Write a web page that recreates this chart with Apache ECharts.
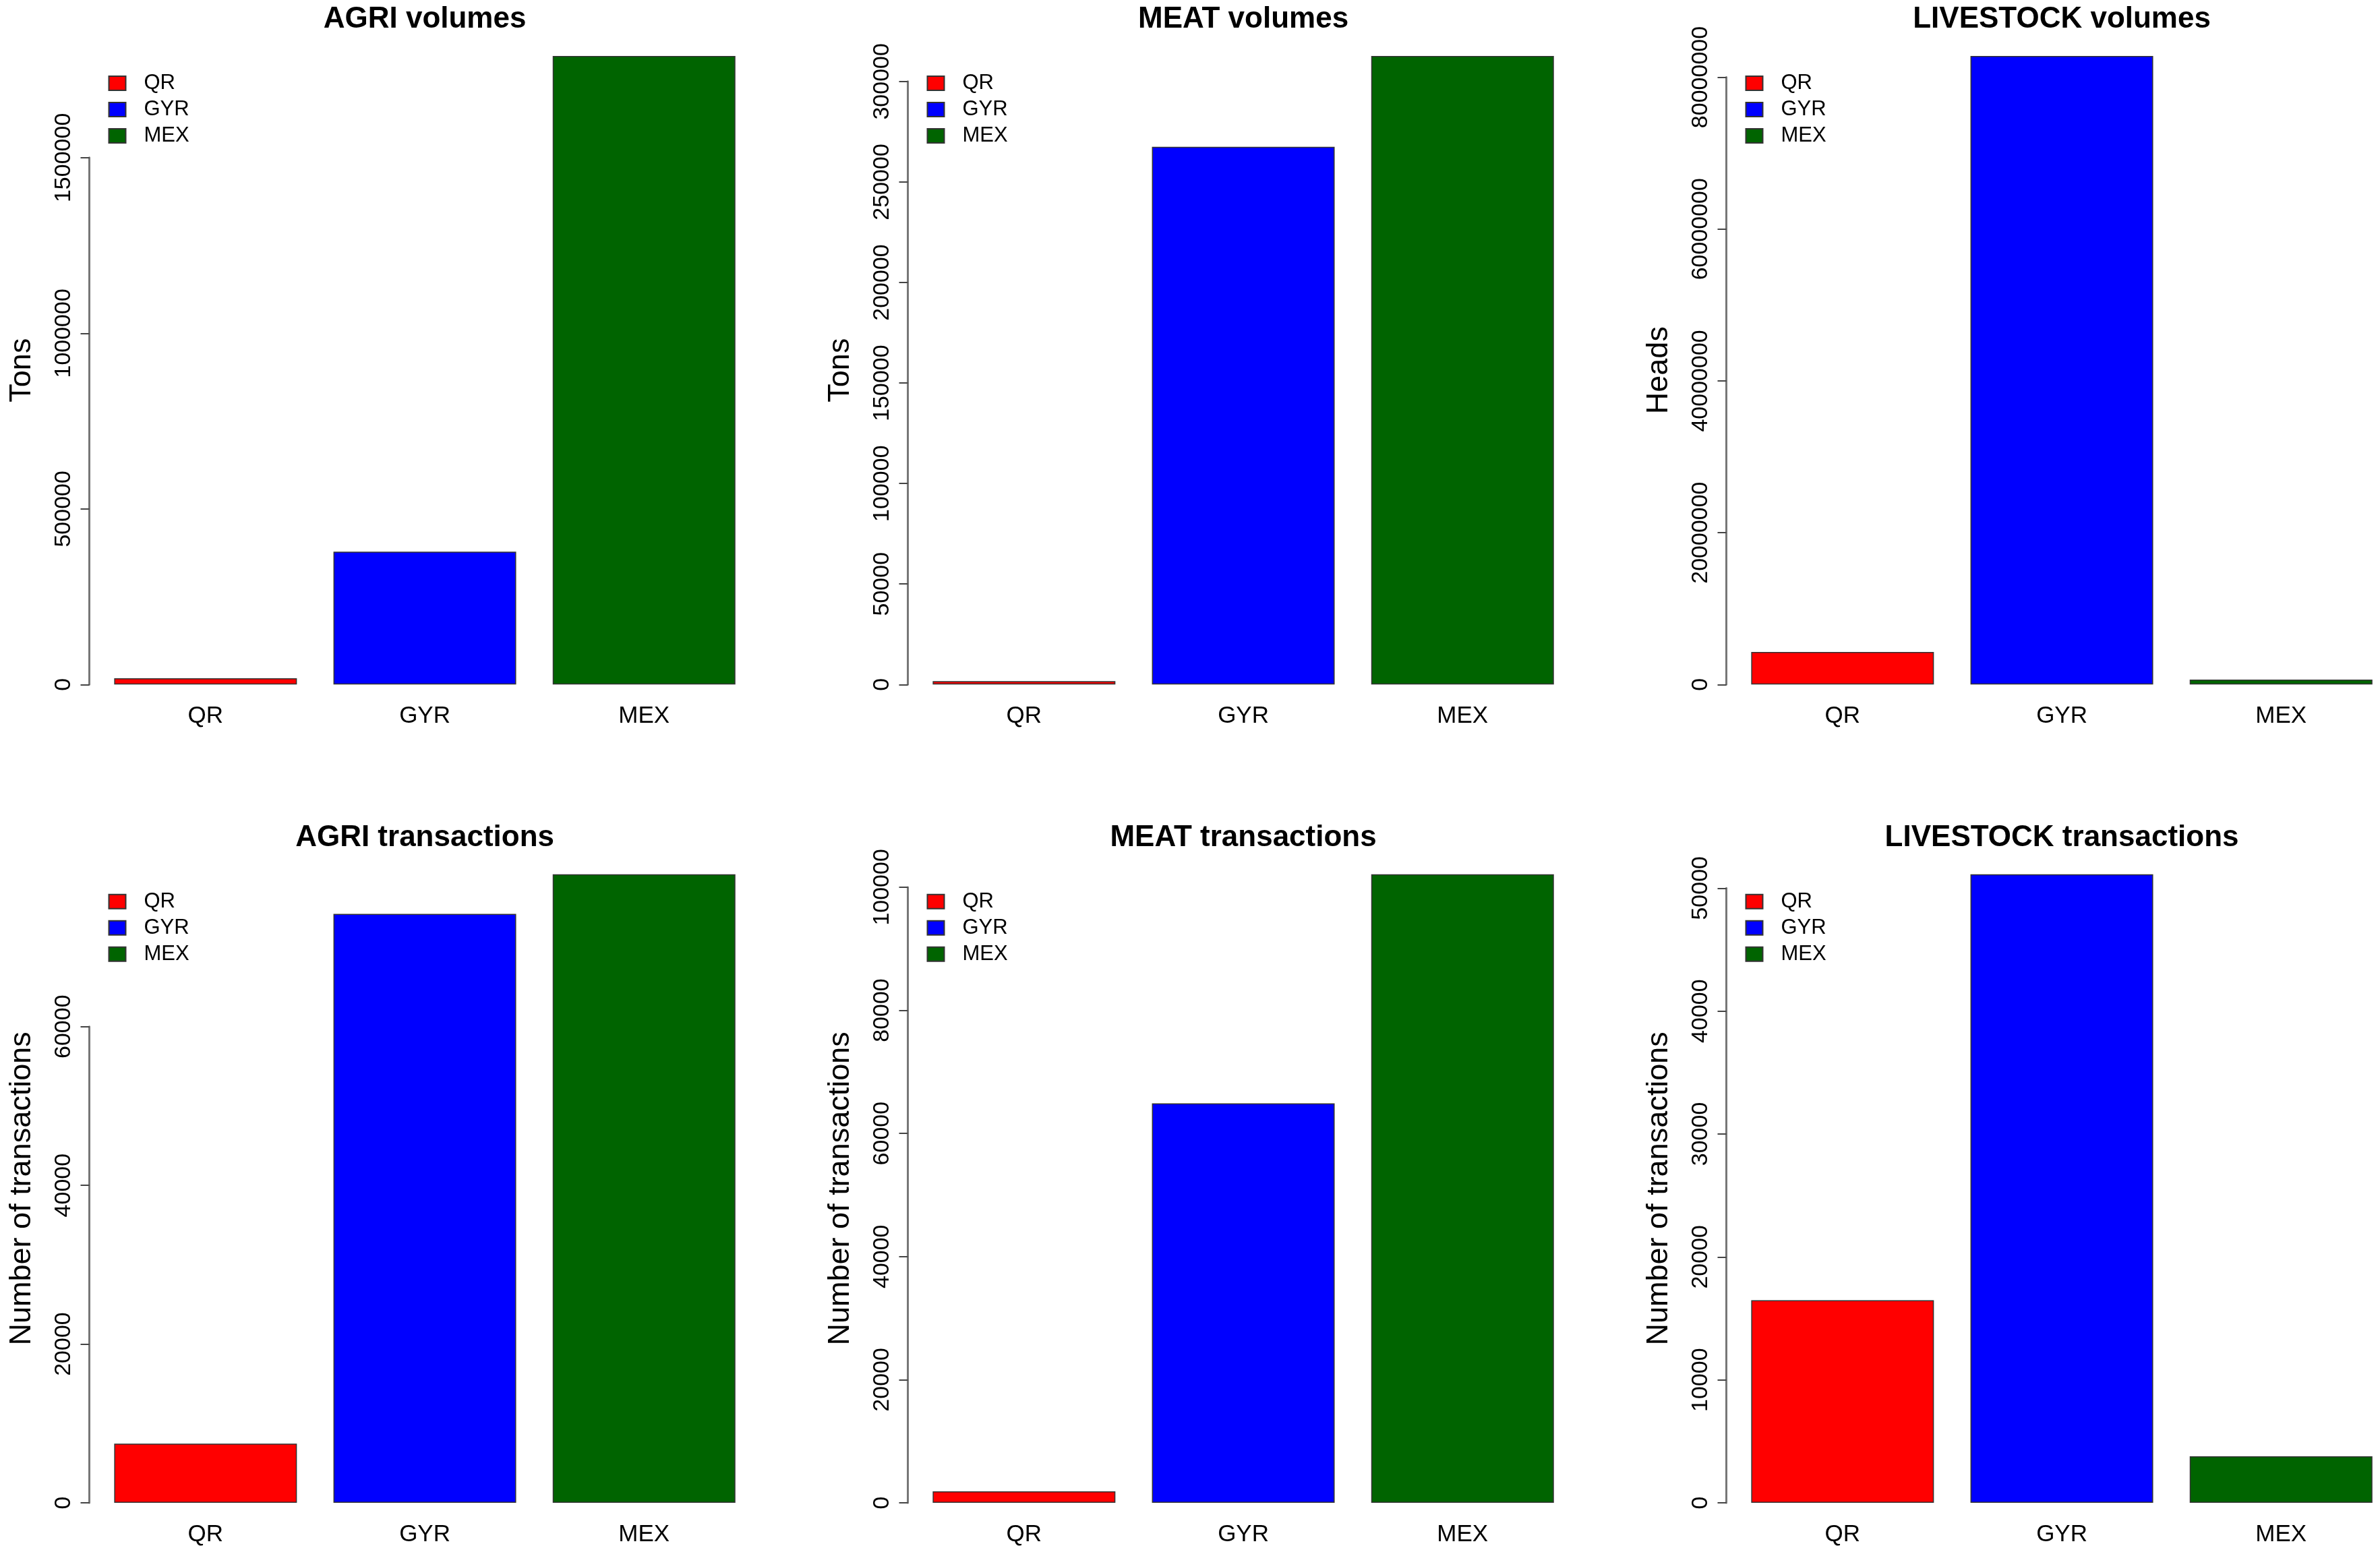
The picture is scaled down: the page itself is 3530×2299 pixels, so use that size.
<!DOCTYPE html>
<html>
<head>
<meta charset="utf-8">
<script src="https://cdn.jsdelivr.net/npm/echarts@6/dist/echarts.min.js"></script>
<style>
html,body{margin:0;padding:0;background:#fff;overflow:hidden;width:3530px;height:2299px;}
#chart{width:3640px;height:2299px;}
</style>
</head>
<body>
<div id="chart"></div>
<script>
// ---- data ----
const categories = ['QR', 'GYR', 'MEX'];
const seriesColors = ['#FF0000', '#0000FF', '#006400'];

const panelTitles = ['AGRI volumes', 'MEAT volumes', 'LIVESTOCK volumes',
                     'AGRI transactions', 'MEAT transactions', 'LIVESTOCK transactions'];
const yAxisTitles = ['Tons', 'Tons', 'Heads',
                     'Number of transactions', 'Number of transactions', 'Number of transactions'];

const agriVolumes = [18000, 378400, 1789600];
const meatVolumes = [1700, 267500, 312700];
const livestockVolumes = [4300000, 82800000, 650000];
const agriTransactions = [7450, 74200, 79200];
const meatTransactions = [1850, 64900, 102100];
const livestockTransactions = [16480, 51130, 3780];

const panelValues = [agriVolumes, meatVolumes, livestockVolumes,
                     agriTransactions, meatTransactions, livestockTransactions];

// tick specs (last tick, interval)
const tickMax = [1500000, 300000, 80000000, 60000, 100000, 50000];
const tickInterval = [500000, 50000, 20000000, 20000, 20000, 10000];

// ---- layout (pixels) ----
const FONT = "'Liberation Sans', Arial, Helvetica, sans-serif";
const COL_STEP = 1214, ROW_STEP = 1213.7;
const PLOT_LEFT0 = 132.5;   // y-axis line of first panel
const ZERO_Y0 = 1015.3;     // zero line of first row
const BAR_MAX_H = 932.3;    // pixel height of the tallest bar
const UNIT = 271;           // one bar width

const chart = echarts.init(document.getElementById('chart'), null, {renderer: 'canvas'});

const grids = [], xAxes = [], yAxes = [], series = [], titles = [], legends = [], graphics = [];

panelValues.forEach((vals, i) => {
  const r = Math.floor(i / 3), c = i % 3;
  const plotLeft = PLOT_LEFT0 + c * COL_STEP;
  const zeroY = ZERO_Y0 + r * ROW_STEP;
  const maxVal = Math.max.apply(null, vals);
  const gridH = BAR_MAX_H * tickMax[i] / maxVal;
  const axisOffset = 0.036 * UNIT;

  grids.push({
    left: plotLeft + axisOffset,
    top: zeroY - gridH,
    width: 3.6 * UNIT,
    height: gridH,
    containLabel: false
  });

  xAxes.push({
    gridIndex: i,
    type: 'category',
    data: categories,
    axisLine: {show: false},
    axisTick: {show: false},
    splitLine: {show: false},
    axisLabel: {
      color: '#000', fontFamily: FONT, fontSize: 35, margin: 30
    }
  });

  yAxes.push({
    gridIndex: i,
    type: 'value',
    min: 0,
    max: tickMax[i],
    interval: tickInterval[i],
    offset: axisOffset,
    splitLine: {show: false},
    axisLine: {show: true, lineStyle: {color: '#777', width: 3}},
    axisTick: {show: true, length: 13, lineStyle: {color: '#444', width: 2}},
    axisLabel: {
      rotate: 90, color: '#000', fontFamily: FONT, fontSize: 34, margin: 21,
      formatter: v => String(v)
    }
  });

  categories.forEach((name, k) => {
    series.push({
      name: name,
      type: 'bar',
      xAxisIndex: i,
      yAxisIndex: i,
      stack: 'panel' + i,
      barWidth: '83.333%',
      clip: false,
      silent: true,
      animation: false,
      itemStyle: {color: seriesColors[k], borderColor: '#333', borderWidth: 1.5},
      data: categories.map((_, j) => (j === k ? vals[j] : null))
    });
  });

  titles.push({
    text: panelTitles[i],
    left: plotLeft + 1.836 * UNIT,
    top: 7 + r * ROW_STEP,
    textAlign: 'center',
    padding: 0,
    textStyle: {fontFamily: FONT, fontSize: 44, fontWeight: 'bold', color: '#000'}
  });

  legends.push({
    data: categories,
    orient: 'vertical',
    left: plotLeft + 28,
    top: 108 + r * ROW_STEP,
    icon: 'rect',
    itemWidth: 25,
    itemHeight: 21,
    itemGap: 8,
    padding: 0,
    selectedMode: false,
    textStyle: {fontFamily: FONT, fontSize: 31, color: '#000', lineHeight: 30, padding: [0, 0, 0, 22]}
  });

  graphics.push({
    type: 'text',
    x: plotLeft - 100,
    y: zeroY - BAR_MAX_H / 2,
    rotation: Math.PI / 2,
    style: {
      text: yAxisTitles[i],
      font: '45px ' + FONT,
      fill: '#000',
      textAlign: 'center',
      textVerticalAlign: 'middle'
    }
  });
});

chart.setOption({
  backgroundColor: '#ffffff',
  animation: false,
  title: titles,
  legend: legends,
  grid: grids,
  xAxis: xAxes,
  yAxis: yAxes,
  series: series,
  graphic: graphics
});
</script>
</body>
</html>
